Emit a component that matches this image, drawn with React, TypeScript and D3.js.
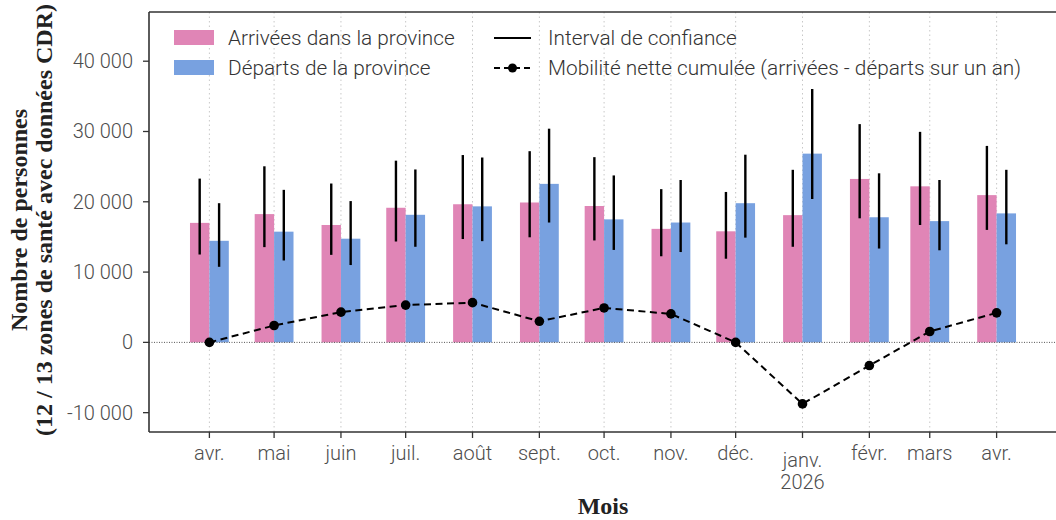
import React from "react";
import * as d3 from "d3";

const months = ["2025-04-01","2025-05-01","2025-06-01","2025-07-01","2025-08-01","2025-09-01","2025-10-01","2025-11-01","2025-12-01","2026-01-01","2026-02-01","2026-03-01","2026-04-01"];
const monthLabels = [["avr."],["mai"],["juin"],["juil."],["août"],["sept."],["oct."],["nov."],["déc."],["janv.","2026"],["févr."],["mars"],["avr."]];
const arrivals = [17000, 18250, 16700, 19150, 19650, 19900, 19400, 16150, 15800, 18100, 23250, 22200, 20950];
const arrLow = [12500, 13550, 12450, 14350, 14700, 14950, 14500, 12250, 11900, 13600, 17650, 16700, 16000];
const arrHigh = [23300, 25050, 22600, 25850, 26650, 27200, 26350, 21800, 21400, 24550, 31050, 29950, 27950];
const departures = [14450, 15750, 14750, 18150, 19350, 22550, 17500, 17050, 19800, 26850, 17800, 17250, 18350];
const depLow = [10750, 11650, 11000, 13600, 14400, 17050, 13150, 12850, 14900, 20400, 13350, 13100, 13950];
const depHigh = [19800, 21700, 20100, 24600, 26300, 30400, 23750, 23100, 26700, 36050, 24050, 23100, 24550];
const netCumul = [0, 2400, 4300, 5300, 5650, 3000, 4900, 4050, 0, -8750, -3300, 1550, 4200];
const yTicks = [-10000, 0, 10000, 20000, 30000, 40000];

const PINK = "#e085b6";
const BLUE = "#78a1e0";
const SANS = "Roboto, 'Noto Sans', sans-serif";
const SERIF = "'Liberation Serif', 'DejaVu Serif', serif";

const locale = d3.formatLocale({ decimal: ",", thousands: "\u00a0", grouping: [3], currency: ["", "€"], minus: "-" });
const fmt = locale.format(",d");

export default function App() {
  const W = 1056, H = 520;
  const left = 149, right = 1057, top = 12, bottom = 432;
  const parse = (s: string) => new Date(s + "T00:00:00Z");
  const dates = months.map(parse);
  const x = d3.scaleUtc()
    .domain([d3.utcDay.offset(dates[0], -28), d3.utcDay.offset(dates[dates.length - 1], 28)])
    .range([left, right]);
  const y = d3.scaleLinear().domain([-12750, 47000]).range([bottom, top]);
  const half = 9;
  const line = d3.line<number>().x((_, i) => x(dates[i])).y((d) => y(d));

  return (
    <svg width={W} height={H} style={{ position: "absolute", left: 0, top: 0, background: "#fff" }}>
      <defs>
        <clipPath id="plot"><rect x={left} y={top} width={right - left} height={bottom - top} /></clipPath>
      </defs>
      <rect x={0} y={0} width={W} height={H} fill="#fff" />
      {dates.map((d, i) => (
        <line key={"g" + i} x1={x(d)} x2={x(d)} y1={top} y2={bottom} stroke="#c8c8c8" strokeWidth={1} strokeDasharray="1.5,3" />
      ))}
      <g clipPath="url(#plot)">
        {dates.map((d, i) => (
          <g key={"b" + i}>
            <rect x={x(d3.utcDay.offset(d, -half))} width={x(d) - x(d3.utcDay.offset(d, -half))} y={y(arrivals[i])} height={y(0) - y(arrivals[i])} fill={PINK} />
            <rect x={x(d)} width={x(d3.utcDay.offset(d, half)) - x(d)} y={y(departures[i])} height={y(0) - y(departures[i])} fill={BLUE} />
          </g>
        ))}
        <line x1={left} x2={right} y1={y(0)} y2={y(0)} stroke="#555" strokeWidth={1} strokeDasharray="1,1.5" />
        {dates.map((d, i) => {
          const xa = x(d3.utcHour.offset(d, -half * 12));
          const xb = x(d3.utcHour.offset(d, half * 12));
          return (
            <g key={"e" + i}>
              <line x1={xa} x2={xa} y1={y(arrLow[i])} y2={y(arrHigh[i])} stroke="#000" strokeWidth={2.4} />
              <line x1={xb} x2={xb} y1={y(depLow[i])} y2={y(depHigh[i])} stroke="#000" strokeWidth={2.4} />
            </g>
          );
        })}
        <path d={line(netCumul) || ""} fill="none" stroke="#000" strokeWidth={2} strokeDasharray="7,4.5" />
        {netCumul.map((v, i) => (
          <circle key={"p" + i} cx={x(dates[i])} cy={y(v)} r={4.8} fill="#000" />
        ))}
      </g>
      <line x1={left} x2={right} y1={top} y2={top} stroke="#333" strokeWidth={1.6} />
      <line x1={left} x2={right} y1={bottom} y2={bottom} stroke="#333" strokeWidth={1.6} />
      <line x1={left} x2={left} y1={top} y2={bottom} stroke="#333" strokeWidth={1.6} />
      {yTicks.map((t) => (
        <g key={"y" + t}>
          <line x1={left - 6} x2={left} y1={y(t)} y2={y(t)} stroke="#333" strokeWidth={1.3} />
          <text x={left - 16} y={y(t)} dy="0.35em" textAnchor="end" fontFamily={SANS} fontWeight={300} fontSize={20} fill="#4d4d4d">{fmt(t)}</text>
        </g>
      ))}
      {dates.map((d, i) => (
        <g key={"x" + i}>
          <line x1={x(d)} x2={x(d)} y1={bottom} y2={bottom + 6} stroke="#333" strokeWidth={1.3} />
          {monthLabels[i].length === 1 ? (
            <text x={x(d)} y={460} textAnchor="middle" fontFamily={SANS} fontWeight={300} fontSize={20} fill="#4d4d4d">{monthLabels[i][0]}</text>
          ) : (
            <text x={x(d)} y={467} textAnchor="middle" fontFamily={SANS} fontWeight={300} fontSize={20} fill="#4d4d4d">
              <tspan x={x(d)}>{monthLabels[i][0]}</tspan>
              <tspan x={x(d)} dy={22}>{monthLabels[i][1]}</tspan>
            </text>
          )}
        </g>
      ))}
      <text x={(left + right) / 2} y={514} textAnchor="middle" fontFamily={SERIF} fontWeight={700} fontSize={24} fill="#222">Mois</text>
      <text transform={`translate(27,220) rotate(-90)`} textAnchor="middle" fontFamily={SERIF} fontWeight={700} fontSize={24} fill="#222">
        <tspan x={0} y={0}>Nombre de personnes</tspan>
        <tspan x={0} dy={25}>(12 / 13 zones de santé avec données CDR)</tspan>
      </text>
      <rect x={174} y={30} width={40} height={15} fill={PINK} />
      <rect x={174} y={60} width={40} height={15} fill={BLUE} />
      <text x={228} y={38} dy="0.35em" fontFamily={SANS} fontWeight={300} fontSize={20.8} fill="#333">Arrivées dans la province</text>
      <text x={228} y={68} dy="0.35em" fontFamily={SANS} fontWeight={300} fontSize={20.8} fill="#333">Départs de la province</text>
      <line x1={494} x2={531} y1={38} y2={38} stroke="#000" strokeWidth={2} />
      <line x1={494} x2={531} y1={68} y2={68} stroke="#000" strokeWidth={2} strokeDasharray="6,4" />
      <circle cx={512.5} cy={68} r={4.5} fill="#000" />
      <text x={548} y={38} dy="0.35em" fontFamily={SANS} fontWeight={300} fontSize={20.8} fill="#333">Interval de confiance</text>
      <text x={548} y={68} dy="0.35em" fontFamily={SANS} fontWeight={300} fontSize={20.8} fill="#333">Mobilité nette cumulée (arrivées - départs sur un an)</text>
    </svg>
  );
}
